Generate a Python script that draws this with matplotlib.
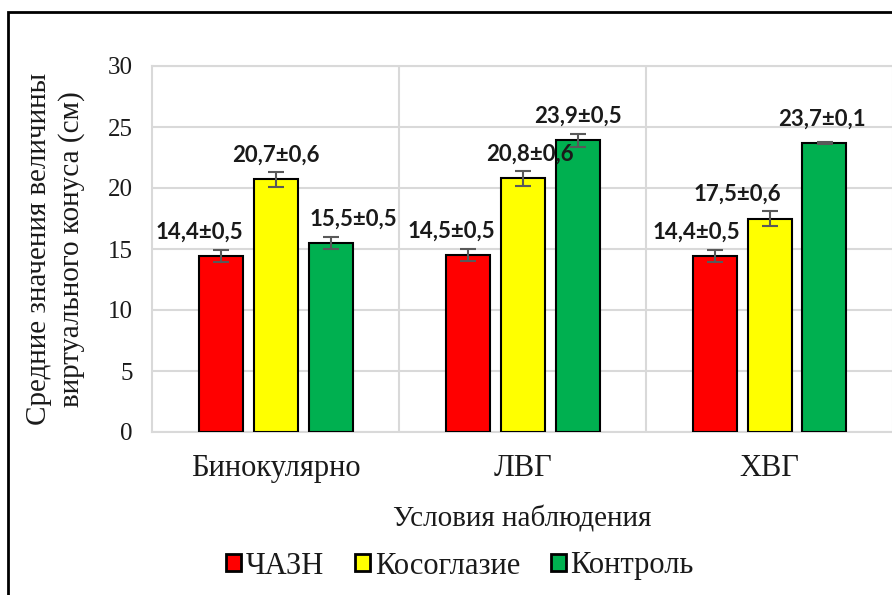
import numpy as np
import matplotlib.pyplot as plt
from matplotlib.patches import Rectangle

# Data
categories = ["Бинокулярно", "ЛВГ", "ХВГ"]
groups = ["ЧАЗН", "Косоглазие", "Контроль"]
means = {
    "ЧАЗН": [14.4, 14.5, 14.4],
    "Косоглазие": [20.7, 20.8, 17.5],
    "Контроль": [15.5, 23.9, 23.7],
}
errors = {
    "ЧАЗН": [0.5, 0.5, 0.5],
    "Косоглазие": [0.6, 0.6, 0.6],
    "Контроль": [0.5, 0.5, 0.1],
}
colors = ["#ff0000", "#ffff00", "#00b050"]

# manual label nudges (px), like the hand-placed labels in the original
nudge_x = {
    "ЧАЗН": [-21, -16, -18],
    "Косоглазие": [0, 7, -32],
    "Контроль": [23, 0, -3],
}

plt.rcParams["font.family"] = ["Liberation Serif", "DejaVu Serif"]

fig = plt.figure(figsize=(8.92, 5.95), dpi=100)
ax = fig.add_axes([152 / 892, 1 - 432 / 595, (893 - 152) / 892, (432 - 66) / 595])

x = np.arange(len(categories))
width = 44 / 247
step = 55 / 247
px = 72 / 100  # pixels -> points

for i, g in enumerate(groups):
    pos = x + (i - 1) * step
    ax.bar(pos, means[g], width, color=colors[i], edgecolor="black",
           linewidth=1.5, label=g, zorder=3)
    ax.errorbar(pos, means[g], yerr=errors[g], fmt="none", ecolor="#595959",
                elinewidth=1.5, capsize=6, capthick=1.5, zorder=4)
    for j, (m, e) in enumerate(zip(means[g], errors[g])):
        txt = f"{m:.1f}±{e:.1f}".replace(".", ",")
        ax.annotate(txt, (pos[j], m), xytext=(nudge_x[g][j] * px, 24 * px),
                    textcoords="offset points", ha="center", va="center",
                    fontsize=16, fontweight="bold", family=["Lato", "DejaVu Sans"],
                    color="#1a1a1a", zorder=5)

ax.set_xlim(-0.5, 2.5)
ax.set_ylim(0, 30)
ax.set_yticks(np.arange(0, 31, 5))
ax.set_xticks(x)
ax.set_xticklabels(categories)
ax.tick_params(axis="both", length=0, colors="#1a1a1a")
ax.tick_params(axis="x", labelsize=22, pad=16)
ax.tick_params(axis="y", labelsize=18, pad=14)

ax.grid(axis="y", color="#d9d9d9", linewidth=1.5, zorder=0)
for b in [0.5, 1.5]:
    ax.axvline(b, color="#d9d9d9", linewidth=1.5, zorder=0)
for s in ax.spines.values():
    s.set_color("#d9d9d9")
    s.set_linewidth(1.5)

ax.set_xlabel("Условия наблюдения", fontsize=21, labelpad=16, color="#1a1a1a")
ax.set_ylabel("Средние значения величины\nвиртуального конуса (см)", fontsize=21,
              labelpad=16, color="#1a1a1a", linespacing=1.3)

leg = fig.legend(loc="center", bbox_to_anchor=(460 / 892, 1 - 566 / 595), ncol=3,
                 frameon=False, fontsize=22, handlelength=0.5, handleheight=0.5,
                 handletextpad=0.15, columnspacing=1.0)
for t in leg.get_texts():
    t.set_color("#1a1a1a")
for h in leg.legend_handles:
    h.set_linewidth(2)

# outer frame of the chart
fig.patches.append(Rectangle((8 / 892, -0.05), 1.0, 1 - 12 / 595 + 0.05,
                             transform=fig.transFigure, fill=False,
                             edgecolor="black", linewidth=2))

fig.savefig("out.png", dpi=100)
